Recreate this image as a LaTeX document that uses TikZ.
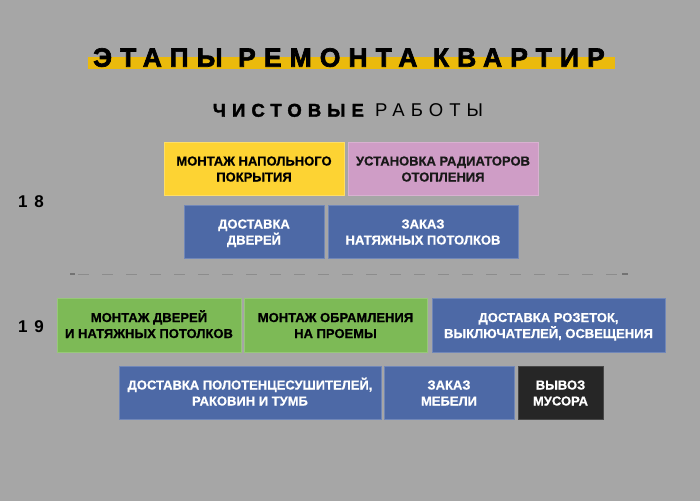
\documentclass[tikz,border=0pt]{standalone}
\usepackage{fontspec}
\setmainfont{Liberation Sans}
\definecolor{bg}{HTML}{A6A6A6}
\definecolor{titlebar}{HTML}{EBBA0C}
\definecolor{cyellow}{HTML}{FDD333}
\definecolor{cpink}{HTML}{CF9DC6}
\definecolor{cblue}{HTML}{4D69A6}
\definecolor{cgreen}{HTML}{7DBA56}
\definecolor{cdark}{HTML}{262626}
\definecolor{dashgray}{HTML}{8C8C8C}
\begin{document}
\begin{tikzpicture}[x=1pt,y=-1pt,
  box/.style={rectangle, inner sep=0pt, align=center, line width=0.8pt,
    text height=26pt, text depth=0pt,
    font=\fontsize{13}{16}\selectfont\bfseries\addfontfeature{FakeBold=0.6}},
  lightbox/.style={box, text=black},
  darkbox/.style={box, text=white},
  rowlabel/.style={font=\fontsize{17}{17}\selectfont\bfseries\addfontfeature{LetterSpace=40}, anchor=base, inner sep=0pt}
]
\useasboundingbox[fill=bg] (0,0) rectangle (700,501);
% title
\fill[titlebar] (88,57.3) rectangle (615,69.3);
\node[anchor=base, inner sep=0pt, font=\fontsize{26.5}{26.5}\selectfont\bfseries\addfontfeature{LetterSpace=30.5,FakeBold=2.5}] (title) at (349,66.7) {ЭТАПЫ РЕМОНТА КВАРТИР};
\node[anchor=base, inner sep=0pt, font=\fontsize{18.5}{18.5}\selectfont\addfontfeature{LetterSpace=33}] (subtitle) at (348,116.7) {{\bfseries\addfontfeature{FakeBold=2}ЧИСТОВЫЕ} РАБОТЫ};
% row labels
\node[rowlabel] (l18) at (31,207) {18};
\node[rowlabel] (l19) at (31,332) {19};
% stage 18
\node[lightbox, fill=cyellow, draw=cyellow!75!white, minimum width=180, minimum height=53] (floor) at (254,168.5) {МОНТАЖ НАПОЛЬНОГО\\ПОКРЫТИЯ};
\node[lightbox, fill=cpink, draw=cpink!80!white, text=black!90, minimum width=190, minimum height=53] (rad) at (443,168.5) {УСТАНОВКА РАДИАТОРОВ\\ОТОПЛЕНИЯ};
\node[darkbox, fill=cblue, draw=cblue!80!white, minimum width=140, minimum height=53] (doors) at (254,231.5) {ДОСТАВКА\\ДВЕРЕЙ};
\node[darkbox, fill=cblue, draw=cblue!80!white, minimum width=190, minimum height=53] (ceil) at (423,231.5) {ЗАКАЗ\\НАТЯЖНЫХ ПОТОЛКОВ};
% separator
\coordinate (d1) at (73,274);
\coordinate (d2) at (625,274);
\draw[dashgray, line width=1pt, dash pattern=on 11pt off 13pt, dash phase=-5pt] (d1) -- (d2);
\draw[black!55, line width=1.2pt] (70,274) -- (75,274);
\draw[black!55, line width=1.2pt] (622,274) -- (628,274);
% stage 19
\node[lightbox, fill=cgreen, draw=cgreen!80!white, minimum width=184, minimum height=54] (mdoors) at (149,325) {МОНТАЖ ДВЕРЕЙ\\И НАТЯЖНЫХ ПОТОЛКОВ};
\node[lightbox, fill=cgreen, draw=cgreen!80!white, minimum width=183, minimum height=54] (frame) at (335.5,325) {МОНТАЖ ОБРАМЛЕНИЯ\\НА ПРОЕМЫ};
\node[darkbox, fill=cblue, draw=cblue!80!white, minimum width=233, minimum height=54] (sockets) at (548.5,325) {ДОСТАВКА РОЗЕТОК,\\ВЫКЛЮЧАТЕЛЕЙ, ОСВЕЩЕНИЯ};
\node[darkbox, fill=cblue, draw=cblue!80!white, minimum width=262, minimum height=53] (towel) at (250,392.5) {ДОСТАВКА ПОЛОТЕНЦЕСУШИТЕЛЕЙ,\\РАКОВИН И ТУМБ};
\node[darkbox, fill=cblue, draw=cblue!80!white, minimum width=130, minimum height=53] (furn) at (449,392.5) {ЗАКАЗ\\МЕБЕЛИ};
\node[darkbox, fill=cdark, draw=cdark!85!white, minimum width=85, minimum height=53] (trash) at (560.5,392.5) {ВЫВОЗ\\МУСОРА};
\end{tikzpicture}
\end{document}
